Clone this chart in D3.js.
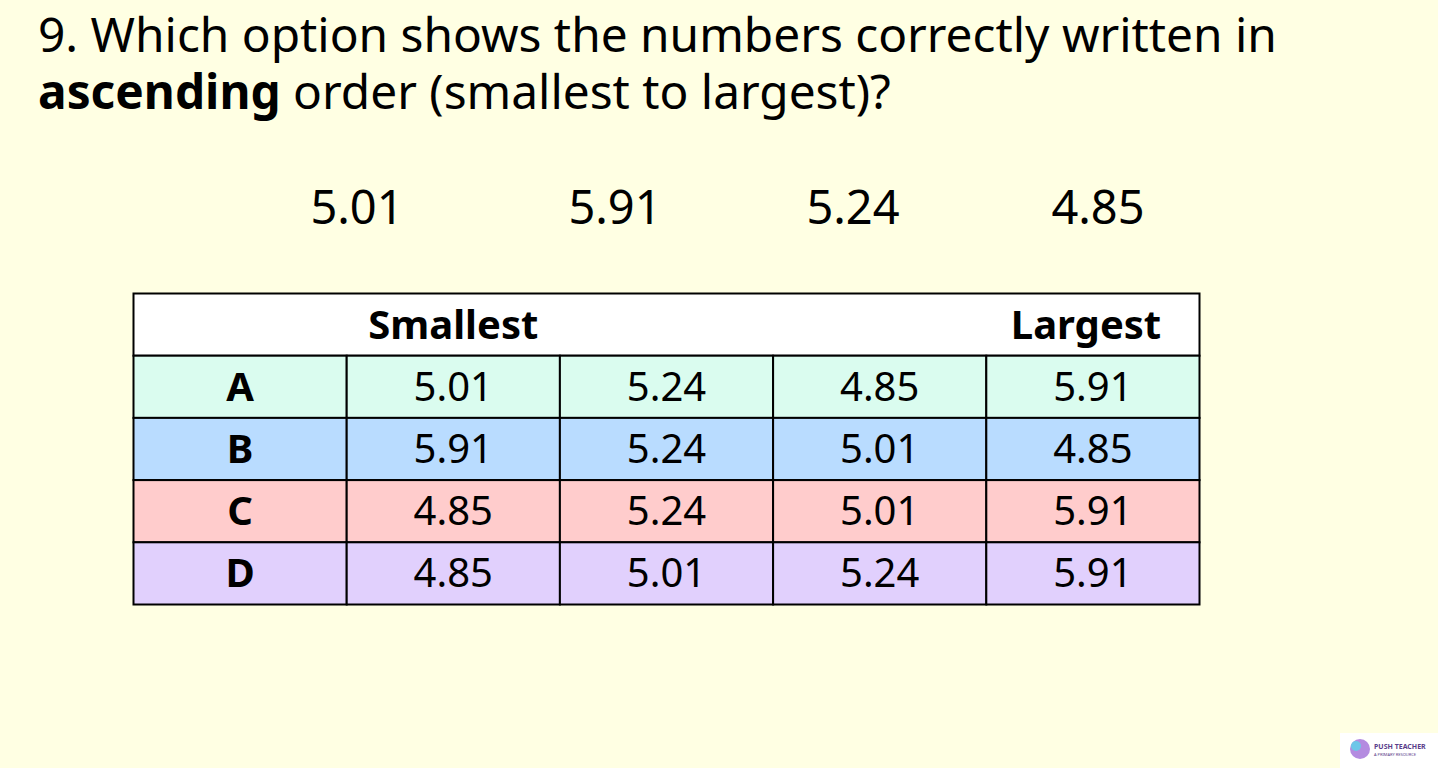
<!DOCTYPE html>
<meta charset="utf-8">
<style>
    body { margin: 0; background: #ffffe3; }
    text { font-family: "Noto Sans", sans-serif; fill: #000; }
</style>
<svg width="1438" height="768"></svg>
<script src="https://d3js.org/d3.v7.min.js"></script>
<script>
    var svg = d3.select("svg");
    svg.append("rect").attr("width", 1438).attr("height", 768).attr("fill", "#ffffe3");

    // question
    var q = svg.append("text").attr("x", 38).attr("font-size", 47.8);
    q.append("tspan").attr("x", 38).attr("y", 52).text("9. Which option shows the numbers correctly written in");
    q.append("tspan").attr("x", 38).attr("y", 109).attr("font-weight", "bold").text("ascending");
    q.append("tspan").text(" order (smallest to largest)?");

    // numbers to sort
    var numbers = [
        { v: "5.01", x: 357 },
        { v: "5.91", x: 615 },
        { v: "5.24", x: 853 },
        { v: "4.85", x: 1098 }
    ];
    svg.selectAll(".num").data(numbers).enter().append("text")
        .attr("class", "num")
        .attr("x", d => d.x).attr("y", 224)
        .attr("text-anchor", "middle").attr("font-size", 47)
        .text(d => d.v);

    // table
    var rows = [
        { id: "A", color: "#dafcef", values: ["5.01", "5.24", "4.85", "5.91"] },
        { id: "B", color: "#b9dcff", values: ["5.91", "5.24", "5.01", "4.85"] },
        { id: "C", color: "#ffcccc", values: ["4.85", "5.24", "5.01", "5.91"] },
        { id: "D", color: "#e1d0fd", values: ["4.85", "5.01", "5.24", "5.91"] }
    ];

    var x = d3.scaleLinear().domain([0, 5]).range([133.5, 1199.5]);
    var y = d3.scaleLinear().domain([0, 5]).range([293.5, 604.5]);

    var g = svg.append("g");
    g.append("rect").attr("x", x(0)).attr("y", y(0))
        .attr("width", x(5) - x(0)).attr("height", y(1) - y(0))
        .attr("fill", "#fff").attr("stroke", "#000").attr("stroke-width", 2);
    g.append("text").attr("x", (x(1) + x(2)) / 2).attr("y", y(0.5) + 14)
        .attr("text-anchor", "middle").attr("font-size", 40).attr("font-weight", "bold").text("Smallest");
    g.append("text").attr("x", 1086).attr("y", y(0.5) + 14)
        .attr("text-anchor", "middle").attr("font-size", 40).attr("font-weight", "bold").text("Largest");

    rows.forEach(function (r, i) {
        var cells = [r.id].concat(r.values);
        cells.forEach(function (c, j) {
            g.append("rect").attr("x", x(j)).attr("y", y(i + 1))
                .attr("width", x(j + 1) - x(j)).attr("height", y(i + 2) - y(i + 1))
                .attr("fill", r.color).attr("stroke", "#000").attr("stroke-width", 2);
            g.append("text").attr("x", (x(j) + x(j + 1)) / 2).attr("y", y(i + 1.5) + 14)
                .attr("text-anchor", "middle").attr("font-size", 40)
                .attr("font-weight", j == 0 ? "bold" : "normal")
                .text(c);
        });
    });

    // logo
    var logo = svg.append("g").attr("transform", "translate(1340,733)");
    logo.append("rect").attr("width", 98).attr("height", 35).attr("fill", "#fff");
    logo.append("circle").attr("cx", 20).attr("cy", 16).attr("r", 10).attr("fill", "#b48be0");
    logo.append("circle").attr("cx", 16).attr("cy", 13).attr("r", 5).attr("fill", "#6ec6e8");
    logo.append("text").attr("x", 34).attr("y", 16).attr("font-size", 7).attr("font-weight", "bold")
        .style("fill", "#5a3d8a").text("PUSH TEACHER");
    logo.append("text").attr("x", 34).attr("y", 23).attr("font-size", 4)
        .style("fill", "#5a3d8a").text("A PRIMARY RESOURCE");
</script>
